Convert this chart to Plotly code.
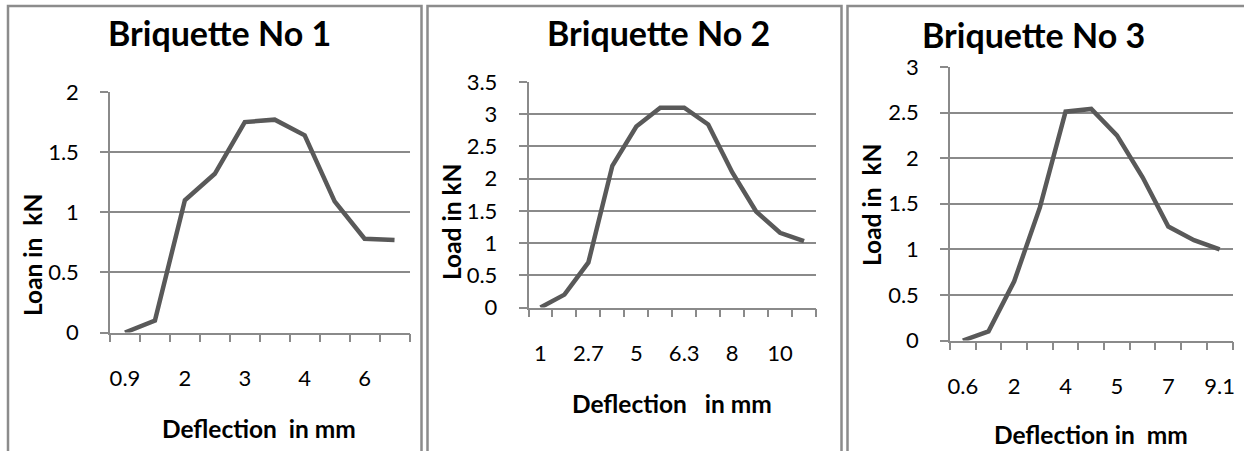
import plotly.graph_objects as go

W, H = 1244, 451

# ---- data ----
cats1 = ["0.9", "1.5", "2", "2.5", "3", "3.5", "4", "5", "6", "7"]
load1 = [0.0, 0.1, 1.10, 1.32, 1.75, 1.77, 1.64, 1.09, 0.78, 0.77]

cats2 = ["1", "2", "2.7", "4", "5", "5.7", "6.3", "7", "8", "9", "10", "11"]
load2 = [0.0, 0.2, 0.70, 2.20, 2.81, 3.10, 3.10, 2.84, 2.10, 1.49, 1.16, 1.03]

cats3 = ["0.6", "1", "2", "3", "4", "4.5", "5", "6", "7", "8", "9.1"]
load3 = [0.0, 0.1, 0.65, 1.46, 2.51, 2.54, 2.25, 1.79, 1.25, 1.10, 1.00]

titles = ["Briquette No 1", "Briquette No 2", "Briquette No 3"]
ytitles = ["Loan in  kN", "Load in kN", "Load in  kN"]
xtitles = ["Deflection  in mm", "Deflection   in mm", "Deflection in  mm"]
ymax = [2, 3.5, 3]

# ---- layout geometry (pixels) ----
plot_boxes = [(110, 409.5, 92, 332.5), (528.5, 816, 82, 307.5), (950, 1232.5, 67, 340.5)]
title_pos = [(219, 33), (658, 33), (1033, 34)]
ytitle_pos = [(32, 255), (452, 222), (871, 205)]
xtitle_pos = [(259, 428), (672, 403), (1091, 434)]
panel_boxes = [(8, 421.5), (427.5, 841.5), (847.5, 1260)]

LINE = "#595959"
GRID = "#8a8a8a"
FONT = "Lato"
TICK = 22
AXT = 24.5
TIT = 34

def px(x):
    return x / W

def py(y):
    return 1 - y / H

fig = go.Figure()
datasets = [(cats1, load1), (cats2, load2), (cats3, load3)]

for i, (cats, vals) in enumerate(datasets):
    k = "" if i == 0 else str(i + 1)
    idx = list(range(len(cats)))
    fig.add_trace(go.Scatter(
        x=idx, y=vals, mode="lines",
        line=dict(color=LINE, width=4.5),
        xaxis="x" + k, yaxis="y" + k, showlegend=False, hoverinfo="skip",
    ))
    x0, x1, y0, y1 = plot_boxes[i]
    n = len(cats)
    fig.layout["xaxis" + k] = dict(
        domain=[px(x0), px(x1)], anchor="y" + k, automargin=False,
        range=[-0.5, n - 0.5], showgrid=False, zeroline=False,
        showline=True, linecolor=GRID, linewidth=1.5,
        tickmode="array", tickvals=idx[::2], ticktext=cats[::2],
        ticks="", ticklabelstandoff=25,
        tickfont=dict(family=FONT, size=TICK, color="#000"),
        minor=dict(tick0=-0.5, dtick=1, ticks="outside", ticklen=8,
                   tickcolor=GRID, tickwidth=1.5, showgrid=False),
        fixedrange=True,
    )
    fig.layout["yaxis" + k] = dict(
        domain=[py(y1), py(y0)], anchor="x" + k, automargin=False,
        range=[0, ymax[i]], dtick=0.5, tick0=0,
        showgrid=True, gridcolor=GRID, gridwidth=1.5, zeroline=False,
        showline=True, linecolor=GRID, linewidth=1.5,
        ticks="outside", ticklen=8, tickcolor=GRID, tickwidth=1.5,
        ticklabelstandoff=17,
        tickfont=dict(family=FONT, size=TICK, color="#000"),
        fixedrange=True,
    )

annotations = []
for i in range(3):
    tx, ty = title_pos[i]
    annotations.append(dict(text="<b>%s</b>" % titles[i], x=px(tx), y=py(ty),
                            xref="paper", yref="paper", xanchor="center", yanchor="middle",
                            showarrow=False, font=dict(family=FONT, size=TIT, color="#000")))
    ax, ay = ytitle_pos[i]
    annotations.append(dict(text="<b>%s</b>" % ytitles[i], x=px(ax), y=py(ay),
                            xref="paper", yref="paper", xanchor="center", yanchor="middle",
                            textangle=-90, showarrow=False,
                            font=dict(family=FONT, size=AXT, color="#000")))
    bx, by = xtitle_pos[i]
    annotations.append(dict(text="<b>%s</b>" % xtitles[i], x=px(bx), y=py(by),
                            xref="paper", yref="paper", xanchor="center", yanchor="middle",
                            showarrow=False, font=dict(family=FONT, size=AXT, color="#000")))

shapes = []
for (l, r) in panel_boxes:
    shapes.append(dict(type="rect", xref="paper", yref="paper",
                       x0=px(l), x1=px(r), y0=py(480), y1=py(6),
                       line=dict(color="#8c8c8c", width=2.5), fillcolor="rgba(0,0,0,0)",
                       layer="below"))

fig.update_layout(
    width=W, height=H,
    margin=dict(l=0, r=0, t=0, b=0, pad=0),
    paper_bgcolor="white", plot_bgcolor="white",
    annotations=annotations, shapes=shapes,
)

# remove the browser's default 8px body margin so the figure sits at the page origin
fig.write_html("out.html", config={"displayModeBar": False},
               post_script="document.body.style.margin='0px';document.body.style.overflow='hidden';")
